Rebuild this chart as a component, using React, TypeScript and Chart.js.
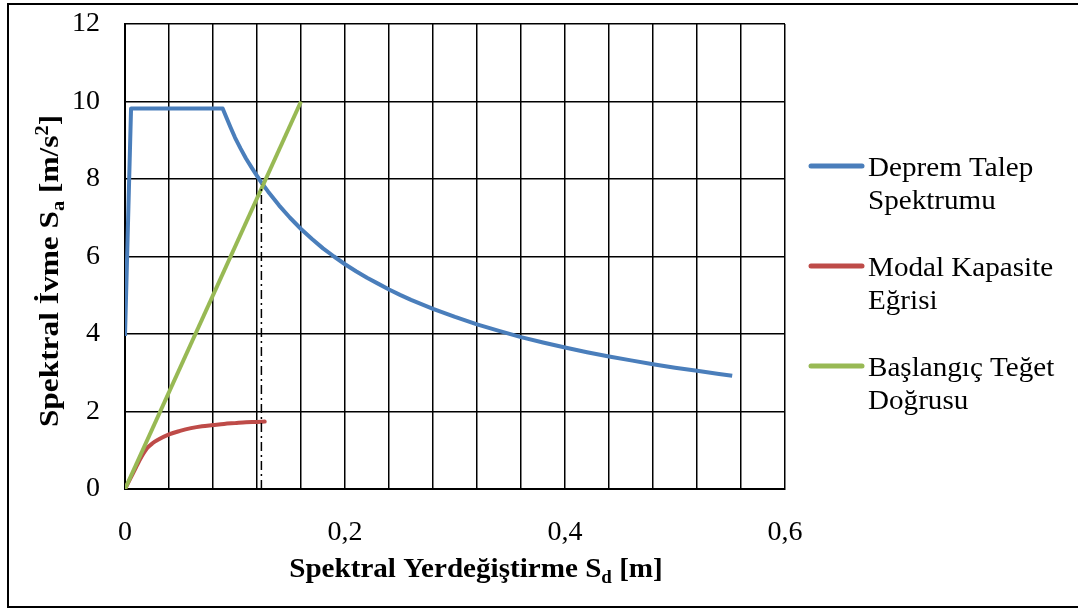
import React, { useEffect, useRef } from "react";
import { Chart, registerables } from "chart.js";

Chart.register(...registerables);

// Deprem Talep Spektrumu
const SD_DEMAND = [0, 0.0055, 0.0888, 0.092, 0.096, 0.1, 0.105, 0.11, 0.115, 0.12, 0.125, 0.13, 0.14, 0.15, 0.16, 0.17, 0.18, 0.19, 0.2, 0.21, 0.22, 0.23, 0.24, 0.25, 0.26, 0.28, 0.3, 0.32, 0.34, 0.36, 0.38, 0.4, 0.42, 0.44, 0.46, 0.48, 0.5, 0.52, 0.54, 0.552];
const SA_DEMAND = [3.95, 9.82, 9.82, 9.6, 9.33, 9.07, 8.79, 8.53, 8.3, 8.08, 7.87, 7.68, 7.32, 7.0, 6.71, 6.45, 6.21, 6.0, 5.8, 5.62, 5.45, 5.3, 5.15, 5.01, 4.88, 4.65, 4.44, 4.25, 4.08, 3.92, 3.78, 3.65, 3.53, 3.42, 3.32, 3.22, 3.13, 3.05, 2.97, 2.92];

// Modal Kapasite Eğrisi
const SD_CAPACITY = [0, 0.005, 0.01, 0.015, 0.02, 0.025, 0.03, 0.04, 0.05, 0.06, 0.07, 0.08, 0.09, 0.1, 0.11, 0.12, 0.127];
const SA_CAPACITY = [0, 0.28, 0.56, 0.83, 1.05, 1.18, 1.27, 1.41, 1.5, 1.57, 1.62, 1.65, 1.68, 1.7, 1.72, 1.73, 1.74];

// Başlangıç Teğet Doğrusu
const SD_TANGENT = [0, 0.16];
const SA_TANGENT = [0, 10];

// Performance point marker (dash-dot)
const SD_PERF = [0.124, 0.124];
const SA_PERF = [0, 7.85];

const SERIES_LABELS = [
  ["Deprem Talep", "Spektrumu"],
  ["Modal Kapasite", "Eğrisi"],
  ["Başlangıç Teğet", "Doğrusu"],
];
const SERIES_COLORS = ["#4A7EBB", "#BE4B48", "#98B954"];

const X_MIN = 0, X_MAX = 0.6, X_STEP = 0.04, X_LABEL_STEP = 0.2;
const Y_MIN = 0, Y_MAX = 12, Y_STEP = 2;

const SERIF = '"Liberation Serif", "Times New Roman", serif';

const pts = (xs: number[], ys: number[]) => xs.map((x, i) => ({ x, y: ys[i] }));

type Seg = { t: string; sub?: boolean; sup?: boolean };

function drawRich(ctx: CanvasRenderingContext2D, segs: Seg[], size: number, weight: string, sx: number) {
  const widths = segs.map((s) => {
    const fs = s.sub || s.sup ? size * 0.65 : size;
    ctx.font = `${weight} ${fs}px ${SERIF}`;
    return ctx.measureText(s.t).width;
  });
  const total = widths.reduce((a, b) => a + b, 0);
  ctx.save();
  ctx.scale(sx, 1);
  let x = -total / 2;
  ctx.textBaseline = "alphabetic";
  ctx.textAlign = "left";
  segs.forEach((s, i) => {
    const fs = s.sub || s.sup ? size * 0.65 : size;
    ctx.font = `${weight} ${fs}px ${SERIF}`;
    let dy = 0;
    if (s.sub) dy = size * 0.22;
    if (s.sup) dy = -size * 0.38;
    ctx.fillText(s.t, x, size * 0.33 + dy);
    x += widths[i];
  });
  ctx.restore();
}

const decorPlugin = {
  id: "decor",
  afterDraw(chart: any) {
    const ctx: CanvasRenderingContext2D = chart.ctx;
    ctx.save();
    // outer frame
    ctx.strokeStyle = "#000";
    ctx.lineWidth = 2;
    ctx.strokeRect(8, 4, 1100, 603);

    ctx.fillStyle = "#000";
    // x title
    ctx.save();
    ctx.translate(476, 568);
    drawRich(ctx, [{ t: "Spektral Yerdeğiştirme S" }, { t: "d", sub: true }, { t: " [m]" }], 28, "bold", 1.04);
    ctx.restore();
    // y title
    ctx.save();
    ctx.translate(49, 271);
    ctx.rotate(-Math.PI / 2);
    drawRich(ctx, [{ t: "Spektral İvme S" }, { t: "a", sub: true }, { t: " [m/s" }, { t: "2", sup: true }, { t: "]" }], 28, "bold", 1.12);
    ctx.restore();

    // legend
    const rowY = [166, 266, 366];
    SERIES_LABELS.forEach((lines, i) => {
      const y = rowY[i];
      ctx.strokeStyle = SERIES_COLORS[i];
      ctx.lineWidth = 5;
      ctx.lineCap = "round";
      ctx.beginPath();
      ctx.moveTo(811, y);
      ctx.lineTo(862, y);
      ctx.stroke();
      ctx.fillStyle = "#000";
      ctx.font = `28px ${SERIF}`;
      ctx.textAlign = "left";
      ctx.textBaseline = "alphabetic";
      lines.forEach((ln, j) => {
        ctx.save();
        ctx.translate(868, y + 10 + j * 33);
        ctx.scale(1.04, 1);
        ctx.fillText(ln, 0, 0);
        ctx.restore();
      });
    });
    ctx.restore();
  },
};

export default function App() {
  const ref = useRef<HTMLCanvasElement>(null);
  useEffect(() => {
    document.body.style.margin = "0";
    const canvas = ref.current!;
    const chart = new Chart(canvas, {
      type: "scatter",
      data: {
        datasets: [
          {
            label: "Deprem Talep Spektrumu",
            data: pts(SD_DEMAND, SA_DEMAND),
            showLine: true,
            borderColor: SERIES_COLORS[0],
            backgroundColor: SERIES_COLORS[0],
            borderWidth: 4,
            pointRadius: 0,
            tension: 0,
            borderJoinStyle: "round",
            order: 2,
          },
          {
            label: "Modal Kapasite Eğrisi",
            data: pts(SD_CAPACITY, SA_CAPACITY),
            showLine: true,
            borderColor: SERIES_COLORS[1],
            backgroundColor: SERIES_COLORS[1],
            borderWidth: 4,
            pointRadius: 0,
            cubicInterpolationMode: "monotone",
            borderCapStyle: "round",
            order: 3,
          },
          {
            label: "Başlangıç Teğet Doğrusu",
            data: pts(SD_TANGENT, SA_TANGENT),
            showLine: true,
            borderColor: SERIES_COLORS[2],
            backgroundColor: SERIES_COLORS[2],
            borderWidth: 4,
            pointRadius: 0,
            order: 1,
          },
          {
            label: "perf",
            data: pts(SD_PERF, SA_PERF),
            showLine: true,
            borderColor: "#000",
            borderWidth: 1.5,
            borderDash: [9, 4, 2, 4],
            pointRadius: 0,
            order: 0,
          },
        ],
      },
      options: {
        responsive: false,
        animation: false,
        layout: { padding: { left: 0, top: 24, right: 293, bottom: 0 } },
        plugins: { legend: { display: false }, tooltip: { enabled: false } },
        scales: {
          x: {
            type: "linear",
            min: X_MIN,
            max: X_MAX,
            afterFit: (s: any) => { s.height = 121; s.paddingLeft = 0; s.paddingRight = 0; },
            grid: { color: "#000", lineWidth: 1.5, drawTicks: false },
            border: { display: true, color: "#000", width: 2 },
            ticks: {
              stepSize: X_STEP,
              autoSkip: false,
              maxRotation: 0,
              padding: 27,
              color: "#000",
              font: { family: SERIF, size: 28 },
              callback: (v: any) => {
                const n = Number(v);
                const r = Math.round(n * 100);
                if (r % Math.round(X_LABEL_STEP * 100) !== 0) return "";
                return r === 0 ? "0" : (r / 100).toString().replace(".", ",");
              },
            },
          },
          y: {
            type: "linear",
            min: Y_MIN,
            max: Y_MAX,
            afterFit: (s: any) => { s.width = 125; s.paddingTop = 0; s.paddingBottom = 0; },
            grid: { color: "#000", lineWidth: 1.5, drawTicks: false },
            border: { display: true, color: "#000", width: 2 },
            ticks: {
              stepSize: Y_STEP,
              padding: 25,
              color: "#000",
              font: { family: SERIF, size: 28 },
            },
          },
        },
      },
      plugins: [decorPlugin],
    });
    return () => chart.destroy();
  }, []);
  return (
    <div style={{ width: 1078, height: 610, background: "#fff" }}>
      <canvas ref={ref} width={1078} height={610} style={{ display: "block" }} />
    </div>
  );
}
